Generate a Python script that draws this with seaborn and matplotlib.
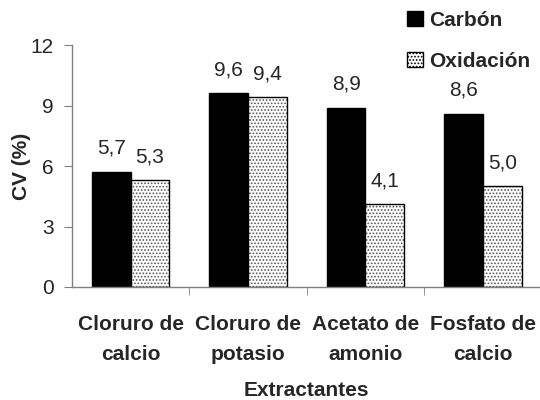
import pandas as pd
import matplotlib
matplotlib.use('Agg')
import matplotlib.pyplot as plt
import seaborn as sns
from matplotlib.patches import Patch

# Data
categorias = ['Cloruro de\ncalcio', 'Cloruro de\npotasio', 'Acetato de\namonio', 'Fosfato de\ncalcio']
carbon = [5.7, 9.6, 8.9, 8.6]
oxidacion = [5.3, 9.4, 4.1, 5.0]
series = ['Carbón', 'Oxidación']

df = pd.DataFrame({
    'Extractante': categorias * 2,
    'Serie': [series[0]] * 4 + [series[1]] * 4,
    'CV': carbon + oxidacion,
})

sns.set_style('white')
plt.rcParams['font.family'] = ['Liberation Sans', 'DejaVu Sans']
plt.rcParams['hatch.linewidth'] = 0.8

fig = plt.figure(figsize=(5.4, 4.0), dpi=100)
ax = fig.add_axes([0.133, 0.2825, 0.87, 0.605])

sns.barplot(data=df, x='Extractante', y='CV', hue='Serie', order=categorias,
            hue_order=series, palette=['black', 'white'], width=0.66, gap=0,
            edgecolor='black', linewidth=1.0, legend=False, ax=ax)

grey = (0.35, 0.35, 0.35, 1)
for bar in ax.containers[1]:
    bar.set_hatch('.....')
    bar._hatch_color = grey

# value labels with comma decimals
for cont in ax.containers:
    for bar in cont:
        h = bar.get_height()
        ax.annotate(f'{h:.1f}'.replace('.', ','),
                    (bar.get_x() + bar.get_width() / 2, h),
                    xytext=(0, 13), textcoords='offset points',
                    ha='center', va='baseline', fontsize=15)

ax.set_ylim(0, 12)
ax.set_yticks([0, 3, 6, 9, 12])
ax.set_xlim(-0.5, 3.5)
ax.set_xticks([0.5, 1.5, 2.5], minor=True)

sns.despine(ax=ax)
for s in ['left', 'bottom']:
    ax.spines[s].set_color('#808080')
    ax.spines[s].set_linewidth(1.0)

ax.tick_params(axis='y', which='major', left=True, length=6, color='#808080',
               labelsize=15, pad=7)
ax.tick_params(axis='x', which='major', length=0, labelsize=15, pad=20)
ax.tick_params(axis='x', which='minor', bottom=True, length=6, color='#808080')
for lbl in ax.get_xticklabels():
    lbl.set_fontweight('bold')
    lbl.set_linespacing(1.75)

ax.set_xlabel('Extractantes', fontsize=15, fontweight='bold', labelpad=12)
ax.set_ylabel('CV (%)', fontsize=15, fontweight='bold', labelpad=0)

handles = [Patch(facecolor='black', edgecolor='black', label=series[0]),
           Patch(facecolor='white', edgecolor='black', hatch='.....', label=series[1])]
fig.legend(handles=handles, loc='upper left', bbox_to_anchor=(0.719, 1.02),
           frameon=False, prop={'size': 15, 'weight': 'bold'},
           handlelength=0.75, handleheight=0.75, handletextpad=0.3,
           labelspacing=1.05)

fig.savefig('out.png', dpi=100)
